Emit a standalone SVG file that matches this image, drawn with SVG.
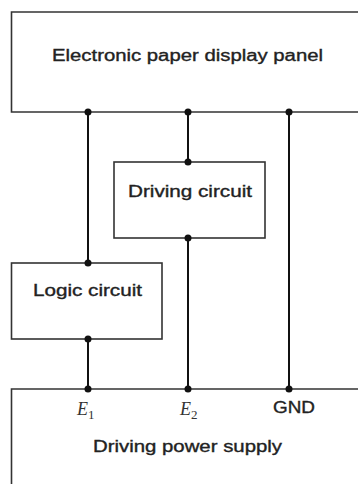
<svg xmlns="http://www.w3.org/2000/svg" width="358" height="484" viewBox="0 0 358 484">
<style>
.box{fill:#fff;stroke:#333;stroke-width:1.6}
.bus{fill:none;stroke:#111;stroke-width:2}
.dot{fill:#111}
.lbl{font-family:"Liberation Sans",Arial,sans-serif;font-size:16px;fill:#222;stroke:#222;stroke-width:0.35}
.var{font-family:"Liberation Serif","Times New Roman",serif;font-style:italic;font-size:18px;fill:#333}
.sub{font-family:"Liberation Serif","Times New Roman",serif;font-style:normal;font-size:13px;fill:#333}
</style>
<rect width="358" height="484" fill="#fff"/>
<g id="panel">
<path class="box" d="M362,12 H11.5 V112 H362"/>
<text class="lbl" x="52" y="61" textLength="271" lengthAdjust="spacingAndGlyphs">Electronic paper display panel</text>
</g>
<g id="driving-circuit">
<rect class="box" x="114" y="162" width="151" height="76"/>
<text class="lbl" x="128" y="197" textLength="124" lengthAdjust="spacingAndGlyphs">Driving circuit</text>
</g>
<g id="logic-circuit">
<rect class="box" x="11.5" y="263" width="150.5" height="76"/>
<text class="lbl" x="33" y="296" textLength="109" lengthAdjust="spacingAndGlyphs">Logic circuit</text>
</g>
<g id="power-supply">
<path class="box" d="M362,389 H11.5 V490"/>
<text class="var" x="77" y="415">E<tspan class="sub" dy="4">1</tspan></text>
<text class="var" x="180" y="415">E<tspan class="sub" dy="4">2</tspan></text>
<text class="lbl" x="273" y="413" textLength="42" lengthAdjust="spacingAndGlyphs">GND</text>
<text class="lbl" x="93" y="452" textLength="189" lengthAdjust="spacingAndGlyphs">Driving power supply</text>
</g>
<g id="connectors">
<line class="bus" x1="88" y1="112" x2="88" y2="263"/>
<line class="bus" x1="88" y1="339" x2="88" y2="389"/>
<line class="bus" x1="188" y1="112" x2="188" y2="162"/>
<line class="bus" x1="188" y1="238" x2="188" y2="389"/>
<line class="bus" x1="289" y1="112" x2="289" y2="389"/>
<circle class="dot" cx="88" cy="112" r="3.5"/>
<circle class="dot" cx="188" cy="112" r="3.5"/>
<circle class="dot" cx="289" cy="112" r="3.5"/>
<circle class="dot" cx="188" cy="162" r="3.5"/>
<circle class="dot" cx="188" cy="238" r="3.5"/>
<circle class="dot" cx="88" cy="263" r="3.5"/>
<circle class="dot" cx="88" cy="339" r="3.5"/>
<circle class="dot" cx="88" cy="389" r="3.5"/>
<circle class="dot" cx="188" cy="389" r="3.5"/>
<circle class="dot" cx="289" cy="389" r="3.5"/>
</g>
</svg>
